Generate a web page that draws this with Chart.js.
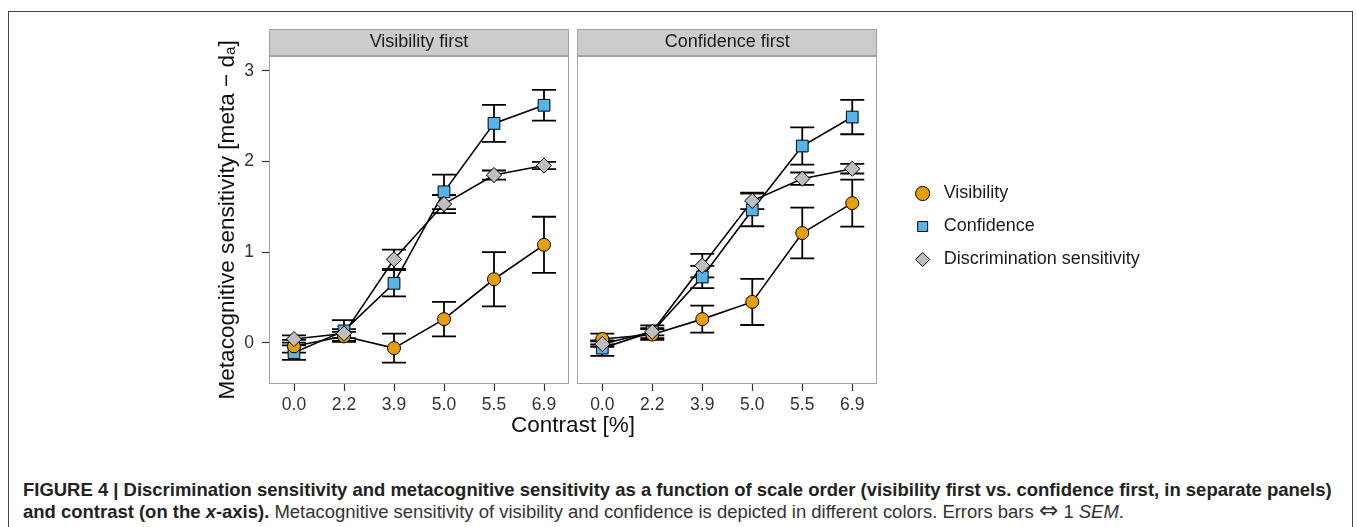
<!DOCTYPE html>
<html><head><meta charset="utf-8">
<script src="https://cdn.jsdelivr.net/npm/chart.js@4.4.1/dist/chart.umd.min.js"></script>
<style>
html,body{margin:0;padding:0;background:#fff;width:1357px;height:527px;overflow:hidden;position:relative;font-family:'Liberation Sans',Arial,sans-serif;}
#frame{position:absolute;left:8px;top:11px;width:1345px;height:700px;border:1px solid #444;box-sizing:border-box;}
#c1{position:absolute;left:0;top:0;}
#c2{position:absolute;left:576px;top:0;}
#xtitle{position:absolute;left:373px;width:400px;top:414px;text-align:center;font-size:22.5px;line-height:22px;color:#111;}
#caption{position:absolute;left:23px;top:479px;line-height:22px;color:#222;white-space:nowrap;font-size:14px;}
#caption .rest{color:#333;}
#caption .arr{font-family:'DejaVu Sans',sans-serif;font-size:1.25em;line-height:0;}
</style></head><body>
<div id="frame"></div>
<canvas id="c1" width="576" height="440"></canvas>
<canvas id="c2" width="781" height="440"></canvas>
<div id="xtitle">Contrast [%]</div>
<div id="caption"><div><b id="l1">FIGURE 4 | Discrimination sensitivity and metacognitive sensitivity as a function of scale order (visibility first vs. confidence first, in separate panels)</b></div><div><b>and contrast (on the <i>x</i>-axis).</b> <span class="rest">Metacognitive sensitivity of visibility and confidence is depicted in different colors. Errors bars <span class="arr">⇔</span> 1 <i>SEM</i>.</span></div></div>
<script>
// ---------- data ----------
const categories = ['0.0', '2.2', '3.9', '5.0', '5.5', '6.9'];
const yTicks = [0, 1, 2, 3];
const seriesNames = ['Visibility', 'Confidence', 'Discrimination sensitivity'];
const panelTitles = ['Visibility first', 'Confidence first'];

// Visibility first panel
const visVF      = [-0.04, 0.07, -0.06, 0.26, 0.70, 1.08];
const visVF_sem  = [0.07, 0.05, 0.16, 0.19, 0.30, 0.31];
const confVF     = [-0.11, 0.13, 0.655, 1.665, 2.42, 2.62];
const confVF_sem = [0.08, 0.12, 0.145, 0.19, 0.205, 0.17];
const discVF     = [0.04, 0.10, 0.92, 1.53, 1.85, 1.955];
const discVF_sem = [0.04, 0.05, 0.107, 0.10, 0.05, 0.04];

// Confidence first panel
const visCF      = [0.04, 0.09, 0.26, 0.45, 1.21, 1.54];
const visCF_sem  = [0.06, 0.06, 0.15, 0.255, 0.28, 0.26];
const confCF     = [-0.06, 0.12, 0.725, 1.465, 2.17, 2.49];
const confCF_sem = [0.085, 0.07, 0.123, 0.18, 0.205, 0.19];
const discCF     = [-0.015, 0.12, 0.85, 1.565, 1.81, 1.92];
const discCF_sem = [0.03, 0.04, 0.13, 0.09, 0.068, 0.053];

// ---------- styles ----------
const FONT = "'Liberation Sans', 'DejaVu Sans', Arial, sans-serif";
Chart.defaults.font.family = FONT;
Chart.defaults.color = '#333';
const colVis = '#E69F00', colConf = '#56B4E9', colDisc = '#BEBEBE';

(function(){
  const cap = document.getElementById('caption');
  const w = document.getElementById('l1').getBoundingClientRect().width;
  cap.style.fontSize = (14 * 1310 / w) + 'px';
})();

const errorBars = {
  id: 'errorBars',
  beforeDatasetsDraw(chart) {
    const {ctx} = chart; const xs = chart.scales.x, ys = chart.scales.y;
    ctx.save();
    ctx.strokeStyle = '#000'; ctx.lineWidth = 1.8;
    chart.data.datasets.forEach(ds => {
      if (!ds.errors) return;
      ds.data.forEach((v, i) => {
        const px = xs.getPixelForValue(i);
        const t = ys.getPixelForValue(v + ds.errors[i]);
        const b = ys.getPixelForValue(v - ds.errors[i]);
        ctx.beginPath();
        ctx.moveTo(px, t); ctx.lineTo(px, b);
        ctx.moveTo(px - 12, t); ctx.lineTo(px + 12, t);
        ctx.moveTo(px - 12, b); ctx.lineTo(px + 12, b);
        ctx.stroke();
      });
    });
    ctx.restore();
  }
};

const panelFrame = {
  id: 'panelFrame',
  beforeDraw(chart) {
    const {ctx, chartArea: a} = chart;
    const tb = chart.titleBlock;
    ctx.save();
    ctx.fillStyle = '#cccccc';
    ctx.fillRect(a.left, tb.top, a.right - a.left, tb.bottom - tb.top);
    ctx.strokeStyle = '#a3a3a3'; ctx.lineWidth = 1;
    ctx.strokeRect(Math.round(a.left) + 0.5, Math.round(tb.top) + 0.5, Math.round(a.right - a.left) - 1, Math.round(tb.bottom - tb.top) - 1);
    ctx.restore();
  },
  afterDraw(chart) {
    const {ctx, chartArea: a} = chart;
    ctx.save();
    ctx.strokeStyle = '#a3a3a3'; ctx.lineWidth = 1;
    ctx.strokeRect(Math.round(a.left) + 0.5, Math.round(a.top) + 0.5, Math.round(a.right - a.left) - 1, Math.round(a.bottom - a.top) - 1);
    ctx.restore();
  }
};

function makeDatasets(vis, visE, conf, confE, disc, discE) {
  const line = d => ({data: d, showLine: true, borderColor: '#000', borderWidth: 1.6, pointRadius: 0, pointHoverRadius: 0, tension: 0, fill: false, order: 10, inLegend: false});
  const pts = (label, d, e, style, r, col, ord) => ({
    label, data: d, errors: e, showLine: false, pointStyle: style, pointRadius: r, pointHoverRadius: r,
    pointBackgroundColor: col, backgroundColor: col, pointBorderColor: '#000', borderColor: '#000',
    pointBorderWidth: 1, borderWidth: 1, order: ord, inLegend: true
  });
  return [
    pts(seriesNames[0], vis, visE, 'circle', 6.5, colVis, 2),
    pts(seriesNames[1], conf, confE, 'rect', 8.3, colConf, 3),
    pts(seriesNames[2], disc, discE, 'rectRot', 7.6, colDisc, 1),
    line(vis), line(conf), line(disc)
  ];
}

function xAxis() {
  return {
    type: 'category', labels: categories, offset: true,
    grid: {display: true, drawOnChartArea: false, drawTicks: true, tickLength: 7, tickColor: '#333', tickWidth: 1.2},
    border: {display: false},
    ticks: {color: '#333', font: {size: 17.5}, padding: 4, maxRotation: 0, autoSkip: false},
    afterFit: s => { s.height = 56; s.paddingLeft = 0; s.paddingRight = 0; }
  };
}
const yRange = {min: -0.456, max: 3.166};

const c1 = new Chart(document.getElementById('c1'), {
  type: 'line',
  data: {labels: categories, datasets: makeDatasets(visVF, visVF_sem, confVF, confVF_sem, discVF, discVF_sem)},
  options: {
    responsive: false, animation: false, devicePixelRatio: 1,
    layout: {autoPadding: false, padding: {left: 214, right: 7, top: 29, bottom: 0}},
    scales: {
      x: xAxis(),
      y: {
        type: 'linear', min: yRange.min, max: yRange.max,
        afterBuildTicks: s => { s.ticks = yTicks.map(v => ({value: v})); },
        grid: {display: true, drawOnChartArea: false, drawTicks: true, tickLength: 7, tickColor: '#333', tickWidth: 1.2},
        border: {display: false},
        ticks: {color: '#333', font: {size: 17.5}, padding: 8},
        title: {display: true, text: 'Metacognitive sensitivity [meta − dₐ]', color: '#111', font: {size: 22.6}, padding: {top: 0, bottom: 0}},
        afterFit: s => { s.width = 55; s.paddingTop = 0; s.paddingBottom = 0; }
      }
    },
    plugins: {
      legend: {display: false},
      tooltip: {enabled: false},
      title: {display: true, text: panelTitles[0], fullSize: false, color: '#1a1a1a', font: {size: 18, weight: 'normal'}, padding: {top: 2.6, bottom: 2.6}}
    }
  },
  plugins: [panelFrame, errorBars]
});

const c2 = new Chart(document.getElementById('c2'), {
  type: 'line',
  data: {labels: categories, datasets: makeDatasets(visCF, visCF_sem, confCF, confCF_sem, discCF, discCF_sem)},
  options: {
    responsive: false, animation: false, devicePixelRatio: 1,
    layout: {autoPadding: false, padding: {left: 1.3, right: 207.3, top: 29, bottom: 0}},
    scales: {
      x: xAxis(),
      y: {type: 'linear', display: false, min: yRange.min, max: yRange.max},
      y2: {type: 'linear', position: 'right', display: true, grid: {display: false}, ticks: {display: false}, border: {display: false},
           afterFit: s => { s.width = 23.4; }}
    },
    plugins: {
      tooltip: {enabled: false},
      title: {display: true, text: panelTitles[1], fullSize: false, color: '#1a1a1a', font: {size: 18, weight: 'normal'}, padding: {top: 2.6, bottom: 2.6}},
      legend: {
        display: true, position: 'right', align: 'center', fullSize: false, maxWidth: 400,
        title: {display: true, text: '', font: {size: 11}, padding: 0},
        labels: {
          usePointStyle: true, boxHeight: 10, boxWidth: 14, padding: 15, color: '#1a1a1a', font: {size: 18},
          filter: (item, data) => data.datasets[item.datasetIndex].inLegend,
          sort: (a, b) => a.datasetIndex - b.datasetIndex,
          generateLabels: chart => {
            const items = Chart.defaults.plugins.legend.labels.generateLabels(chart);
            items.forEach(it => { it.text = ' ' + it.text; });
            return items;
          }
        }
      }
    }
  },
  plugins: [panelFrame, errorBars]
});

// keep both plot panels at the reference's positions
function fitArea(ch, offset, L, R) {
  for (let k = 0; k < 3; k++) {
    const a = ch.chartArea;
    const dl = (L - offset) - a.left, dr = a.right - (R - offset);
    if (Math.abs(dl) < 0.05 && Math.abs(dr) < 0.05) break;
    ch.options.layout.padding.left += dl;
    ch.options.layout.padding.right += dr;
    ch.update();
  }
}
fitArea(c1, 0, 269, 569);
fitArea(c2, 576, 577.3, 877.3);
</script>
</body></html>
